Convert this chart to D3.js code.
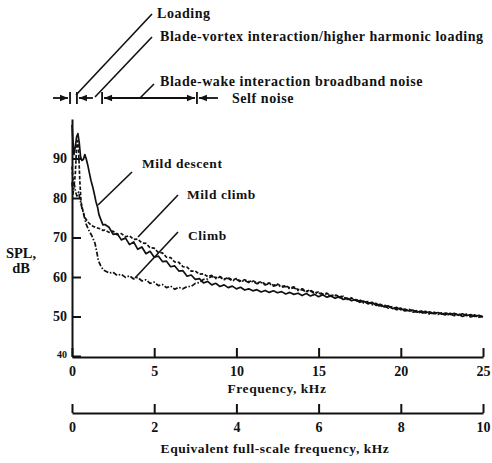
<!DOCTYPE html>
<html><head><meta charset="utf-8">
<script src="https://cdn.jsdelivr.net/npm/d3@7"></script>
<style>
body{margin:0;background:#fff}
text{font-family:"Liberation Serif","Times New Roman",serif;font-weight:bold;fill:#111}
.lbl{letter-spacing:0.55px}
</style>
</head><body>
<svg id="c" width="492" height="463"></svg>
<script>
// ---------- data ----------
const freqTicks = [0, 5, 10, 15, 20, 25];
const equivTicks = [0, 2, 4, 6, 8, 10];
const splTicks = [40, 50, 60, 70, 80, 90];
const seriesNames = ["Mild descent", "Mild climb", "Climb"];
const regionBounds = [-0.12, 0.3, 1.83, 7.6];   // kHz
const regionLabels = ["Loading", "Blade-vortex interaction/higher harmonic loading",
  "Blade-wake interaction broadband noise", "Self noise"];

// low frequency part [kHz, dB]
const mildDescentLow = [[0,98.5],[0.05,95],[0.12,91],[0.2,93],[0.28,95.5],[0.36,96.3],[0.44,94],[0.52,90.5],
  [0.6,89.5],[0.7,89.8],[0.78,91],[0.86,90],[0.95,88.5],[1.05,86.5],[1.15,84.5],[1.25,83],[1.34,81.4],
  [1.45,79.2],[1.56,77.6],[1.64,75.8],[1.75,74.6],[1.88,73.2]];
const mildClimbLow = [[0,88],[0.05,85],[0.12,83],[0.2,86],[0.28,93],[0.34,94.5],[0.4,92],[0.48,84],
  [0.55,79],[0.65,77],[0.75,75.5],[0.85,74.6],[1.0,73.8],[1.15,73.2],[1.3,72.8],[1.5,72.5],[1.7,72.2],[1.9,71.8]];
const climbLow = [[0,84],[0.06,81],[0.14,83.5],[0.22,81.5],[0.3,80.5],[0.4,81.5],[0.5,79.5],[0.6,77.5],
  [0.67,76.5],[0.76,75],[0.85,73.5],[1.0,72],[1.2,70.5],[1.4,68.5],[1.5,66.5],[1.6,64.2],[1.75,62.8],[1.9,61.8]];

// 2 .. 25 kHz every 0.25 kHz
const gridFreq = d3.range(2, 25.001, 0.25);
const mildDescentHigh = [
  73.3,72.6,70.8,71.0,69.4,69.9,68.2,68.9,
  67.0,67.6,65.9,66.5,65.0,65.3,63.9,64.0,
  62.6,62.8,61.5,61.6,60.2,60.5,59.4,59.6,
  58.5,58.9,58.0,58.4,57.6,58.0,57.3,57.7,
  57.0,57.4,56.7,57.0,56.5,56.8,56.2,56.6,
  56.1,56.5,56.0,56.3,55.7,56.1,55.6,55.9,
  55.3,55.8,55.2,55.6,55.0,55.5,54.9,55.2,
  54.6,55.0,54.3,54.6,54.0,54.3,53.6,53.9,
  53.2,53.6,52.8,53.1,52.4,52.7,52.0,52.3,
  51.7,51.9,51.4,51.6,51.1,51.4,50.9,51.2,
  50.7,51.0,50.6,50.9,50.5,50.8,50.3,50.7,
  50.2,50.5,50.0,50.3,49.9];
const mildClimbHigh = [
  71.9,71.3,71.6,70.7,71.0,70.2,70.4,69.5,
  69.6,68.6,68.5,67.4,67.3,66.2,66.1,65.0,
  64.9,63.8,63.7,62.6,62.5,61.5,61.5,60.7,
  60.8,60.1,60.4,59.8,60.1,59.5,59.8,59.2,
  59.6,59.0,59.3,58.8,59.1,58.5,58.8,58.2,
  58.5,57.9,58.2,57.6,57.8,57.2,57.5,56.8,
  57.0,56.4,56.7,56.0,56.2,55.7,55.9,55.3,
  55.5,55.0,55.1,54.5,54.7,54.1,54.2,53.6,
  53.8,53.2,53.3,52.7,52.9,52.3,52.5,51.9,
  52.1,51.6,51.8,51.3,51.5,51.0,51.3,50.8,
  51.1,50.7,50.9,50.5,50.8,50.4,50.7,50.2,
  50.6,50.1,50.4,49.9,50.2];
const climbHigh = [
  61.6,61.0,61.2,60.4,60.7,59.9,60.3,59.5,
  59.9,59.0,59.3,58.4,58.7,57.8,58.1,57.3,
  57.7,56.9,57.4,57.0,57.6,57.6,58.4,58.6,
  59.4,59.5,60.2,59.6,60.0,59.3,59.7,59.0,
  59.4,58.8,59.1,58.6,58.9,58.3,58.6,58.0,
  58.3,57.7,58.0,57.4,57.6,57.0,57.3,56.6,
  56.8,56.2,56.5,55.8,56.0,55.5,55.7,55.1,
  55.3,54.8,54.9,54.3,54.5,53.9,54.0,53.4,
  53.6,53.0,53.1,52.5,52.7,52.1,52.3,51.7,
  51.9,51.4,51.6,51.1,51.3,50.8,51.1,50.6,
  50.9,50.5,50.7,50.3,50.6,50.2,50.5,50.0,
  50.4,49.9,50.2,49.8,50.0];

// ---------- drawing ----------
const svg = d3.select("#c");
const x = d3.scaleLinear().domain([0, 25]).range([72, 483]);
const x2 = d3.scaleLinear().domain([0, 10]).range([72, 483]);
const y = d3.scaleLinear().domain([40, 100]).range([356, 119]);

function joinSeries(low, high) {
  return low.concat(gridFreq.map((f, i) => [f, high[i]]));
}
const series = [
  {name: seriesNames[0], pts: joinSeries(mildDescentLow, mildDescentHigh), dash: null},
  {name: seriesNames[1], pts: joinSeries(mildClimbLow, mildClimbHigh), dash: "3.5,1.8"},
  {name: seriesNames[2], pts: joinSeries(climbLow, climbHigh), dash: "5,1.8,1.5,1.8"}
];

const line = d3.line().x(d => x(d[0])).y(d => y(d[1]));
svg.append("g").selectAll("path").data(series).join("path")
  .attr("d", d => line(d.pts))
  .attr("fill", "none").attr("stroke", "#111").attr("stroke-width", 1.7)
  .attr("stroke-linejoin", "round")
  .attr("stroke-dasharray", d => d.dash);

function styleAxis(g, fs) {
  g.select(".domain").attr("stroke", "#111").attr("stroke-width", 2);
  g.selectAll(".tick line").attr("stroke", "#111").attr("stroke-width", 2);
  g.selectAll(".tick text").attr("font-size", fs).attr("font-family", null).attr("fill", "#111");
}

// y axis
const gy = svg.append("g").attr("transform", "translate(72,0)")
  .call(d3.axisLeft(y).tickValues(splTicks).tickSizeInner(-9).tickSizeOuter(0).tickPadding(5));
styleAxis(gy, 14);
gy.selectAll(".tick text").filter(d => d === 40).attr("font-size", 10).attr("dy", "0.1em");

// x axis
const gx = svg.append("g").attr("transform", "translate(0,357)")
  .call(d3.axisBottom(x).tickValues(freqTicks).tickSizeInner(-9).tickSizeOuter(0).tickPadding(9));
styleAxis(gx, 14);

// equivalent axis
const gx2 = svg.append("g").attr("transform", "translate(0,413)")
  .call(d3.axisBottom(x2).tickValues(equivTicks).tickSizeInner(-9).tickSizeOuter(0).tickPadding(9));
styleAxis(gx2, 14);

// axis titles
svg.append("text").attr("class", "lbl").attr("x", 277).attr("y", 393).attr("text-anchor", "middle")
  .attr("font-size", 13.5).text("Frequency, kHz");
svg.append("text").attr("class", "lbl").attr("x", 275).attr("y", 453).attr("text-anchor", "middle")
  .attr("font-size", 13.5).text("Equivalent full-scale frequency, kHz");
svg.append("text").attr("x", 21).attr("y", 258).attr("text-anchor", "middle")
  .attr("font-size", 14.5).text("SPL,");
svg.append("text").attr("x", 21).attr("y", 273).attr("text-anchor", "middle")
  .attr("font-size", 14.5).text("dB");

// curve labels + leaders
const curveLabels = [
  {t: seriesNames[0], tx: 142, ty: 168, l: [98, 205, 132, 172]},
  {t: seriesNames[1], tx: 187, ty: 199, l: [138, 237, 178, 195]},
  {t: seriesNames[2], tx: 188, ty: 240, l: [135, 278, 178, 232]}
];
curveLabels.forEach(c => {
  svg.append("text").attr("class", "lbl").attr("x", c.tx).attr("y", c.ty).attr("font-size", 13.5).text(c.t);
  svg.append("line").attr("x1", c.l[0]).attr("y1", c.l[1]).attr("x2", c.l[2]).attr("y2", c.l[3])
    .attr("stroke", "#111").attr("stroke-width", 1.6);
});

// region annotation row
const ry = 98;
const ann = svg.append("g").attr("stroke", "#111").attr("stroke-width", 1.8);
regionBounds.forEach(b => {
  ann.append("line").attr("x1", x(b)).attr("x2", x(b)).attr("y1", ry - 6).attr("y2", ry + 6);
});
function hline(x1, x2) { ann.append("line").attr("x1", x1).attr("x2", x2).attr("y1", ry).attr("y2", ry); }
function head(tip, dir) {
  svg.append("path").attr("fill", "#111")
    .attr("d", `M${tip},${ry}L${tip - dir * 8},${ry - 3.2}L${tip - dir * 8},${ry + 3.2}Z`);
}
const b = regionBounds.map(v => x(v));
hline(b[0] - 17, b[0] - 2); head(b[0] - 2, 1);
hline(b[1] + 2, b[1] + 16); head(b[1] + 2, -1);
hline(b[2] + 2, b[3] - 2); head(b[2] + 2, -1); head(b[3] - 2, 1);
hline(b[3] + 2, b[3] + 21); head(b[3] + 2, -1);

const topLabels = [
  {t: regionLabels[0], tx: 157, ty: 18, l: [76, 95, 152, 14]},
  {t: regionLabels[1], tx: 160, ty: 41, l: [95, 97, 152, 37]},
  {t: regionLabels[2], tx: 160, ty: 86, l: [140, 98, 154, 84]}
];
topLabels.forEach(c => {
  svg.append("text").attr("class", "lbl").attr("x", c.tx).attr("y", c.ty).attr("font-size", 14).text(c.t);
  svg.append("line").attr("x1", c.l[0]).attr("y1", c.l[1]).attr("x2", c.l[2]).attr("y2", c.l[3])
    .attr("stroke", "#111").attr("stroke-width", 1.6);
});
svg.append("text").attr("class", "lbl").attr("x", 232).attr("y", 103).attr("font-size", 14).text(regionLabels[3]);
</script>
</body></html>
